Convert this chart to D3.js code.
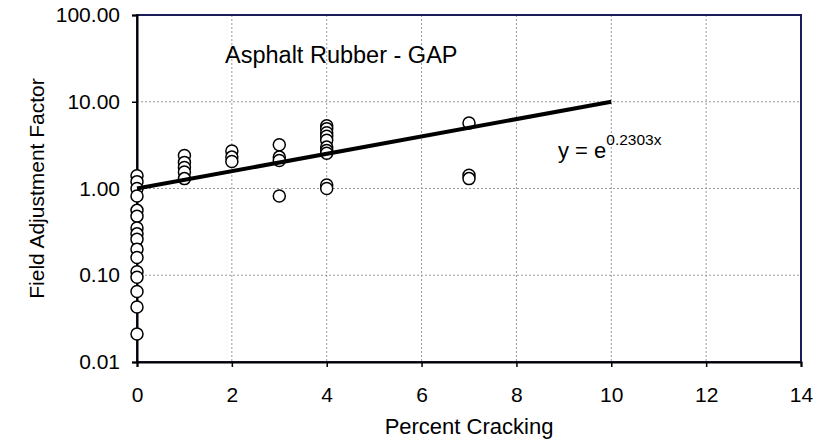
<!DOCTYPE html>
<html>
<head>
<meta charset="utf-8">
<script src="https://cdn.jsdelivr.net/npm/d3@7"></script>
<style>
  html, body { margin: 0; padding: 0; background: #fff; }
  svg { display: block; font-family: "Liberation Sans", Arial, sans-serif; }
</style>
</head>
<body>
<svg id="chart" width="816" height="443"></svg>
<script>
// ---- data ----
const crackX = [0,0,0,0,0,0,0,0,0,0,0,0,0,0,0,0,
                1,1,1,1,1,
                2,2,2,
                3,3,3,3,
                4,4,4,4,4,4,4,4,4,4,
                7,7,7];
const factorY = [1.4,1.2,1.0,0.82,0.56,0.48,0.35,0.3,0.26,0.2,0.16,0.11,0.095,0.065,0.043,0.021,
                 2.4,2.0,1.75,1.55,1.3,
                 2.7,2.3,2.05,
                 3.2,2.3,2.1,0.82,
                 5.3,4.9,4.4,4.0,3.6,3.0,2.75,2.55,1.1,1.0,
                 5.7,1.42,1.3];
const trendX = [0, 10];
const trendY = [1, 10];
const xTicks = [0,2,4,6,8,10,12,14];
const yTicks = [0.01,0.1,1,10,100];
const chartTitle = "Asphalt Rubber - GAP";
const xLabel = "Percent Cracking";
const yLabel = "Field Adjustment Factor";

// ---- layout ----
const svg = d3.select("#chart");
const L = 137, R = 801, T = 15, B = 362;
const x = d3.scaleLinear().domain([0,14]).range([L,R]);
const y = d3.scaleLog().domain([0.01,100]).range([B,T]);
const FONT = "'Liberation Sans', Arial, sans-serif";

// gridlines
const grid = svg.append("g");
grid.selectAll("line.vx").data(xTicks.slice(1, -1)).join("line")
  .attr("x1", d => x(d)).attr("x2", d => x(d)).attr("y1", T).attr("y2", B)
  .attr("stroke", "#9a9a9a").attr("stroke-width", 1).attr("stroke-dasharray", "2,2");
grid.selectAll("line.hy").data(yTicks.slice(1, -1)).join("line")
  .attr("y1", d => y(d)).attr("y2", d => y(d)).attr("x1", L).attr("x2", R)
  .attr("stroke", "#9a9a9a").attr("stroke-width", 1).attr("stroke-dasharray", "2,2");

// frame
svg.append("rect").attr("x", L).attr("y", T).attr("width", R - L).attr("height", B - T)
  .attr("fill", "none").attr("stroke", "#1c1c58").attr("stroke-width", 2);

// axes
const xAxis = d3.axisBottom(x).tickValues(xTicks).tickSize(5).tickPadding(20).tickFormat(d3.format("d"));
const yAxis = d3.axisLeft(y).tickValues(yTicks).tickSize(5).tickPadding(12).tickFormat(d3.format(".2f"));
const gx = svg.append("g").attr("transform", `translate(0,${B})`).call(xAxis);
const gy = svg.append("g").attr("transform", `translate(${L},0)`).call(yAxis);
[gx, gy].forEach(g => {
  g.select(".domain").attr("stroke", "#000").attr("stroke-width", 2);
  g.selectAll(".tick line").attr("stroke", "#000").attr("stroke-width", 1.5);
  g.selectAll(".tick text").attr("fill", "#000").style("font-size", "21px")
    .style("font-family", FONT);
});

// points
svg.append("g").selectAll("circle").data(crackX.map((d, i) => [d, factorY[i]])).join("circle")
  .attr("cx", d => x(d[0])).attr("cy", d => y(d[1])).attr("r", 6)
  .attr("fill", "#fff").attr("stroke", "#000").attr("stroke-width", 1.5);

// trendline
svg.append("path").datum(trendX.map((d, i) => [d, trendY[i]]))
  .attr("d", d3.line().x(d => x(d[0])).y(d => y(d[1])))
  .attr("stroke", "#000").attr("stroke-width", 4).attr("fill", "none");

// title
svg.append("text").attr("x", 225).attr("y", 63).attr("font-size", 23.5).attr("fill", "#000").text(chartTitle);

// equation
const eq = svg.append("text").attr("x", 558).attr("y", 158).attr("font-size", 22).attr("fill", "#000");
eq.append("tspan").text("y = e");
eq.append("tspan").attr("dy", -13).attr("font-size", 15.5).text("0.2303x");

// axis labels
svg.append("text").attr("x", (L + R) / 2).attr("y", 434).attr("text-anchor", "middle")
  .attr("font-size", 22).attr("fill", "#000").text(xLabel);
svg.append("text").attr("transform", `translate(44,${(T + B) / 2}) rotate(-90)`)
  .attr("text-anchor", "middle").attr("font-size", 21).attr("fill", "#000").text(yLabel);
</script>
</body>
</html>
